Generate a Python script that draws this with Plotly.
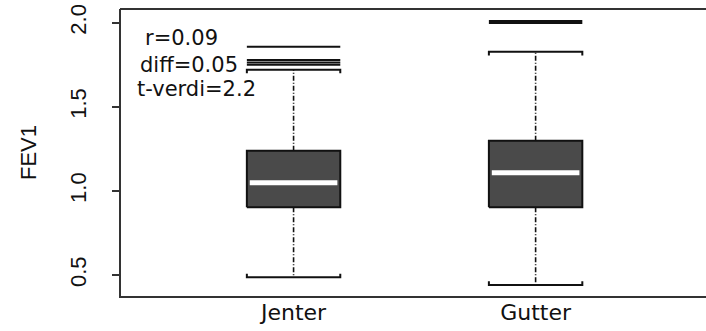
import plotly.graph_objects as go

# FEV1 by sex: summary statistics for each group
categories = ["Jenter", "Gutter"]
positions = [1, 2]
q1 = [0.902, 0.902]
median = [1.049, 1.108]
q3 = [1.239, 1.298]
whisker_low = [0.486, 0.440]
whisker_high = [1.721, 1.827]
outliers = [
    [1.857, 1.778, 1.764, 1.750],
    [2.010, 1.998],
]

# Statistics printed in the upper-left corner
stat_labels = ["r=0.09", "diff=0.05", "t-verdi=2.2"]

BOX_HALF = 0.193
CAP_HOOK = 0.022
FILL = "#4a4a4a"
INK = "#111111"
TEXT = "#111111"
FRAME = "#333333"

fig = go.Figure()

for pos, lo, a, m, b, hi, outs in zip(positions, whisker_low, q1, median, q3,
                                      whisker_high, outliers):
    x0, x1 = pos - BOX_HALF, pos + BOX_HALF
    # dashed whiskers
    for ya, yb in ((b, hi), (a, lo)):
        fig.add_trace(go.Scatter(
            x=[pos, pos], y=[ya, yb], mode="lines",
            line=dict(color=INK, width=1.6, dash="5px,2px,1px,2px"),
            hoverinfo="skip"))
    # staples with short hooks pointing towards the box
    fig.add_trace(go.Scatter(
        x=[x0, x0, x1, x1], y=[hi - CAP_HOOK, hi, hi, hi - CAP_HOOK],
        mode="lines", line=dict(color=INK, width=2), hoverinfo="skip"))
    fig.add_trace(go.Scatter(
        x=[x0, x0, x1, x1], y=[lo + CAP_HOOK, lo, lo, lo + CAP_HOOK],
        mode="lines", line=dict(color=INK, width=2), hoverinfo="skip"))
    # the box itself
    fig.add_trace(go.Scatter(
        x=[x0, x1, x1, x0, x0], y=[a, a, b, b, a], mode="lines",
        fill="toself", fillcolor=FILL,
        line=dict(color=INK, width=2), hoverinfo="skip"))
    # white median bar
    fig.add_trace(go.Scatter(
        x=[x0 + 0.012, x1 - 0.012], y=[m, m], mode="lines",
        line=dict(color="white", width=5), hoverinfo="skip"))
    # outliers drawn as horizontal dashes across the box width
    for v in outs:
        fig.add_trace(go.Scatter(
            x=[x0, x1], y=[v, v], mode="lines",
            line=dict(color=INK, width=2), hoverinfo="skip"))

label_x = [0.535, 0.568, 0.599]
label_y = [1.912, 1.749, 1.606]
for txt, lx, ly in zip(stat_labels, label_x, label_y):
    fig.add_annotation(
        x=lx, y=ly, xref="x", yref="y", text=txt, showarrow=False,
        xanchor="center", yanchor="middle",
        font=dict(family="DejaVu Sans", size=21, color=TEXT))

# y-axis title
fig.add_annotation(
    x=-(121 - 28.5) / 585, y=0.5, xref="paper", yref="paper",
    text="FEV1", textangle=-90, showarrow=False,
    xanchor="center", yanchor="middle",
    font=dict(family="Liberation Sans", size=22, color=TEXT))

# top edge of the plot frame (the right edge runs off the page)
fig.add_shape(type="line", xref="paper", yref="paper",
              x0=-0.0017, x1=1.0, y0=1.0, y1=1.0,
              line=dict(color=FRAME, width=2), layer="above")

fig.update_layout(
    width=706, height=331,
    margin=dict(l=121, r=0, t=9, b=35),
    paper_bgcolor="white", plot_bgcolor="white",
    showlegend=False,
    xaxis=dict(
        range=[0.287, 2.704], tickvals=positions, ticktext=categories,
        ticks="", showgrid=False, zeroline=False,
        showline=True, mirror=False, linewidth=2, linecolor=FRAME,
        tickfont=dict(family="DejaVu Sans", size=22, color=TEXT),
        ticklabelstandoff=-4),
    yaxis=dict(
        range=[0.375, 2.0815], tickvals=[0.5, 1.0, 1.5, 2.0],
        ticktext=["0.5", "1.0", "1.5", "2.0"],
        ticks="outside", ticklen=7, tickwidth=2, tickcolor=FRAME,
        tickangle=-90, showgrid=False, zeroline=False,
        showline=True, mirror=False, linewidth=2, linecolor=FRAME,
        tickfont=dict(family="Liberation Sans", size=22, color=TEXT),
        ticklabelstandoff=17),
)

fig.write_html("out.html")
